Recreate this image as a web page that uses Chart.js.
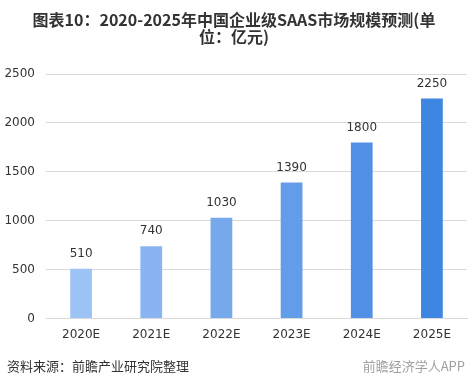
<!DOCTYPE html>
<html>
<head>
<meta charset="utf-8">
<script src="https://cdn.jsdelivr.net/npm/chart.js@4/dist/chart.umd.min.js"></script>
<style>
  html, body { margin: 0; padding: 0; background: #fff; }
  #wrap { position: relative; width: 468px; height: 386px; overflow: hidden; }
  #title {
    position: absolute; left: 0; top: 11px; width: 468px; text-align: center;
    font: bold 16px/17px "Noto Sans CJK SC", "DejaVu Sans", sans-serif; color: #333;
  }
  #chart { position: absolute; left: 0; top: 0; }
  .foot { position: absolute; top: 356px; font: 13px "Noto Sans CJK SC", sans-serif; }
  #src { left: 7px; color: #333; }
  #brand { right: 3px; color: #888; opacity: 0.8; }
</style>
</head>
<body>
<div id="wrap">
  <canvas id="chart" width="468" height="386"></canvas>
  <div id="title">图表10：2020-2025年中国企业级SAAS市场规模预测(单<br>位：亿元)</div>
  <div class="foot" id="src">资料来源：前瞻产业研究院整理</div>
  <div class="foot" id="brand">前瞻经济学人APP</div>
</div>
<script>
const categories = ["2020E", "2021E", "2022E", "2023E", "2024E", "2025E"];
const marketSize = [510, 740, 1030, 1390, 1800, 2250];
const barColors = ["#9dc3f5", "#8ab4f1", "#76a8ec", "#639ce8", "#5190e4", "#3f85e2"];
const yTicks = [0, 500, 1000, 1500, 2000, 2500];

// value labels above each bar
const valueLabels = {
  id: "valueLabels",
  afterDatasetsDraw(chart) {
    const ctx = chart.ctx;
    const meta = chart.getDatasetMeta(0);
    ctx.save();
    ctx.font = '12px "DejaVu Sans", sans-serif';
    ctx.fillStyle = "#333";
    ctx.textAlign = "center";
    ctx.textBaseline = "bottom";
    meta.data.forEach((bar, i) => {
      ctx.fillText(String(marketSize[i]), bar.x, bar.y - 9);
    });
    ctx.restore();
  }
};

new Chart(document.getElementById("chart"), {
  type: "bar",
  data: {
    labels: categories,
    datasets: [{
      data: marketSize,
      backgroundColor: barColors,
      barPercentage: 0.31,
      categoryPercentage: 1
    }]
  },
  options: {
    responsive: false,
    animation: false,
    layout: { padding: { top: 74, right: 1, bottom: 43, left: 0 } },
    plugins: { legend: { display: false }, tooltip: { enabled: false } },
    scales: {
      x: {
        grid: { display: false },
        border: { color: "#d9d9d9" },
        ticks: { color: "#333", padding: 1, font: { size: 12, family: "DejaVu Sans" } }
      },
      y: {
        min: 0,
        max: 2500,
        afterBuildTicks(axis) { axis.ticks = yTicks.map(v => ({ value: v })); },
        afterFit(axis) { axis.width = 46; },
        border: { display: false },
        grid: { color: "#d9d9d9", drawTicks: false },
        ticks: {
          color: "#333", padding: 11, font: { size: 12, family: "DejaVu Sans" },
          callback: v => String(v)
        }
      }
    }
  },
  plugins: [valueLabels]
});
</script>
</body>
</html>
